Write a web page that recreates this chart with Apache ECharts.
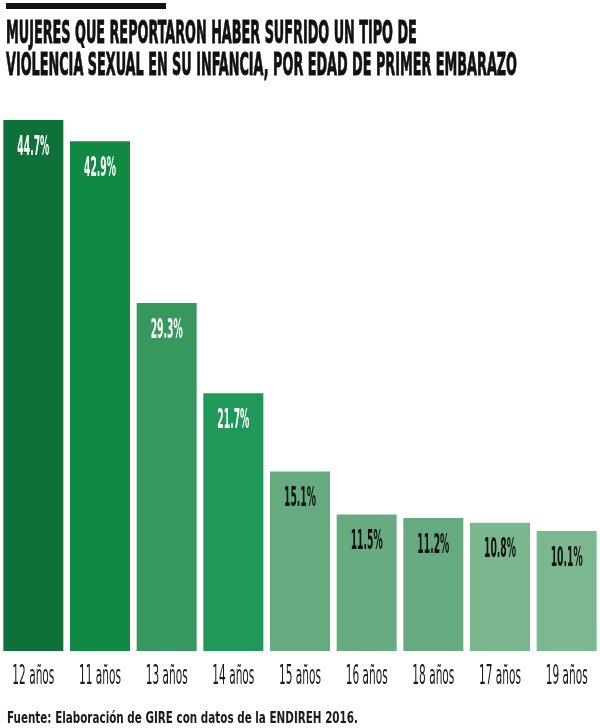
<!DOCTYPE html>
<html>
<head>
<meta charset="utf-8">
<script src="https://cdn.jsdelivr.net/npm/echarts@6/dist/echarts.min.js"></script>
<style>
  html, body { margin: 0; padding: 0; background: #fff; }
  #chart { width: 600px; height: 728px; }
</style>
</head>
<body>
<div id="chart"></div>
<script>
const categories = ['12 años', '11 años', '13 años', '14 años', '15 años', '16 años', '18 años', '17 años', '19 años'];
const values = [44.7, 42.9, 29.3, 21.7, 15.1, 11.5, 11.2, 10.8, 10.1];
const barColors = ['#0e7139', '#108a43', '#36975f', '#1f985a', '#66ab7f', '#67ac80', '#66ab7f', '#7ab68e', '#7cb88f'];
const labelColors = ['#fff', '#fff', '#fff', '#fff', '#111', '#111', '#111', '#111', '#111'];
const titleLines = ['MUJERES QUE REPORTARON HABER SUFRIDO UN TIPO DE', 'VIOLENCIA SEXUAL EN SU INFANCIA, POR EDAD DE PRIMER EMBARAZO'];
const sourceText = 'Fuente: Elaboración de GIRE con datos de la ENDIREH 2016.';

const FONT = '"Liberation Sans Narrow", "DejaVu Sans Condensed", "Noto Sans", sans-serif';

// the original uses a very condensed face, so texts get squeezed horizontally
const ctx = document.createElement('canvas').getContext('2d');
function textWidth(txt, size, weight) {
    ctx.font = weight + ' ' + size + 'px ' + FONT;
    return ctx.measureText(txt).width;
}
const titleScale = 511 / textWidth(titleLines[1], 32, 'bold');
const sourceScale = 351 / textWidth(sourceText, 15, 'bold');
const valueScale = 32 / textWidth('44.7%', 26, 'bold');
const catScale = 42 / textWidth(categories[0], 27, 'normal');

const chart = echarts.init(document.getElementById('chart'));

const option = {
    animation: false,
    grid: { left: 0, right: 0, top: 57, bottom: 77 },
    xAxis: {
        type: 'category',
        data: categories,
        axisLine: { show: false },
        axisTick: { show: false },
        axisLabel: { show: false }
    },
    yAxis: {
        type: 'value',
        min: 0,
        max: 50,
        show: false,
        splitLine: { show: false }
    },
    graphic: [
        { type: 'rect', left: 6, top: 3, shape: { width: 160, height: 6 }, style: { fill: '#111' } },
        { type: 'text', x: 6, y: 35, scaleX: titleScale,
          style: { text: titleLines[0], fontSize: 32, fontWeight: 'bold', fontFamily: FONT, fill: '#111',
                   stroke: '#111', lineWidth: 0.9, verticalAlign: 'middle' } },
        { type: 'text', x: 6, y: 66.5, scaleX: titleScale,
          style: { text: titleLines[1], fontSize: 32, fontWeight: 'bold', fontFamily: FONT, fill: '#111',
                   stroke: '#111', lineWidth: 0.9, verticalAlign: 'middle' } },
        { type: 'text', x: 7, y: 719.5, scaleX: sourceScale,
          style: { text: sourceText, fontSize: 15, fontWeight: 'bold', fontFamily: FONT, fill: '#1a1a1a', verticalAlign: 'middle' } }
    ],
    series: [
        {
            type: 'bar',
            z: 2,
            barWidth: 60,
            data: values.map(function (v, i) {
                return { value: v, itemStyle: { color: barColors[i] } };
            })
        },
        {
            type: 'custom',
            z: 5,
            clip: false,
            silent: true,
            data: values.map(function (v, i) { return [i, v]; }),
            renderItem: function (params, api) {
                const i = params.dataIndex;
                const top = api.coord([i, api.value(1)]);
                const base = api.coord([i, 0]);
                return {
                    type: 'group',
                    children: [
                        {
                            type: 'text',
                            x: top[0], y: top[1] + 28, scaleX: valueScale,
                            style: {
                                text: values[i].toFixed(1) + '%',
                                fontSize: 26, fontWeight: 'bold', fontFamily: FONT,
                                fill: labelColors[i], align: 'center', verticalAlign: 'middle'
                            }
                        },
                        {
                            type: 'text',
                            x: base[0], y: base[1] + 25.5, scaleX: catScale,
                            style: {
                                text: categories[i],
                                fontSize: 27, fontFamily: FONT,
                                fill: '#1a1a1a', align: 'center', verticalAlign: 'middle'
                            }
                        }
                    ]
                };
            }
        }
    ]
};

chart.setOption(option);
</script>
</body>
</html>
